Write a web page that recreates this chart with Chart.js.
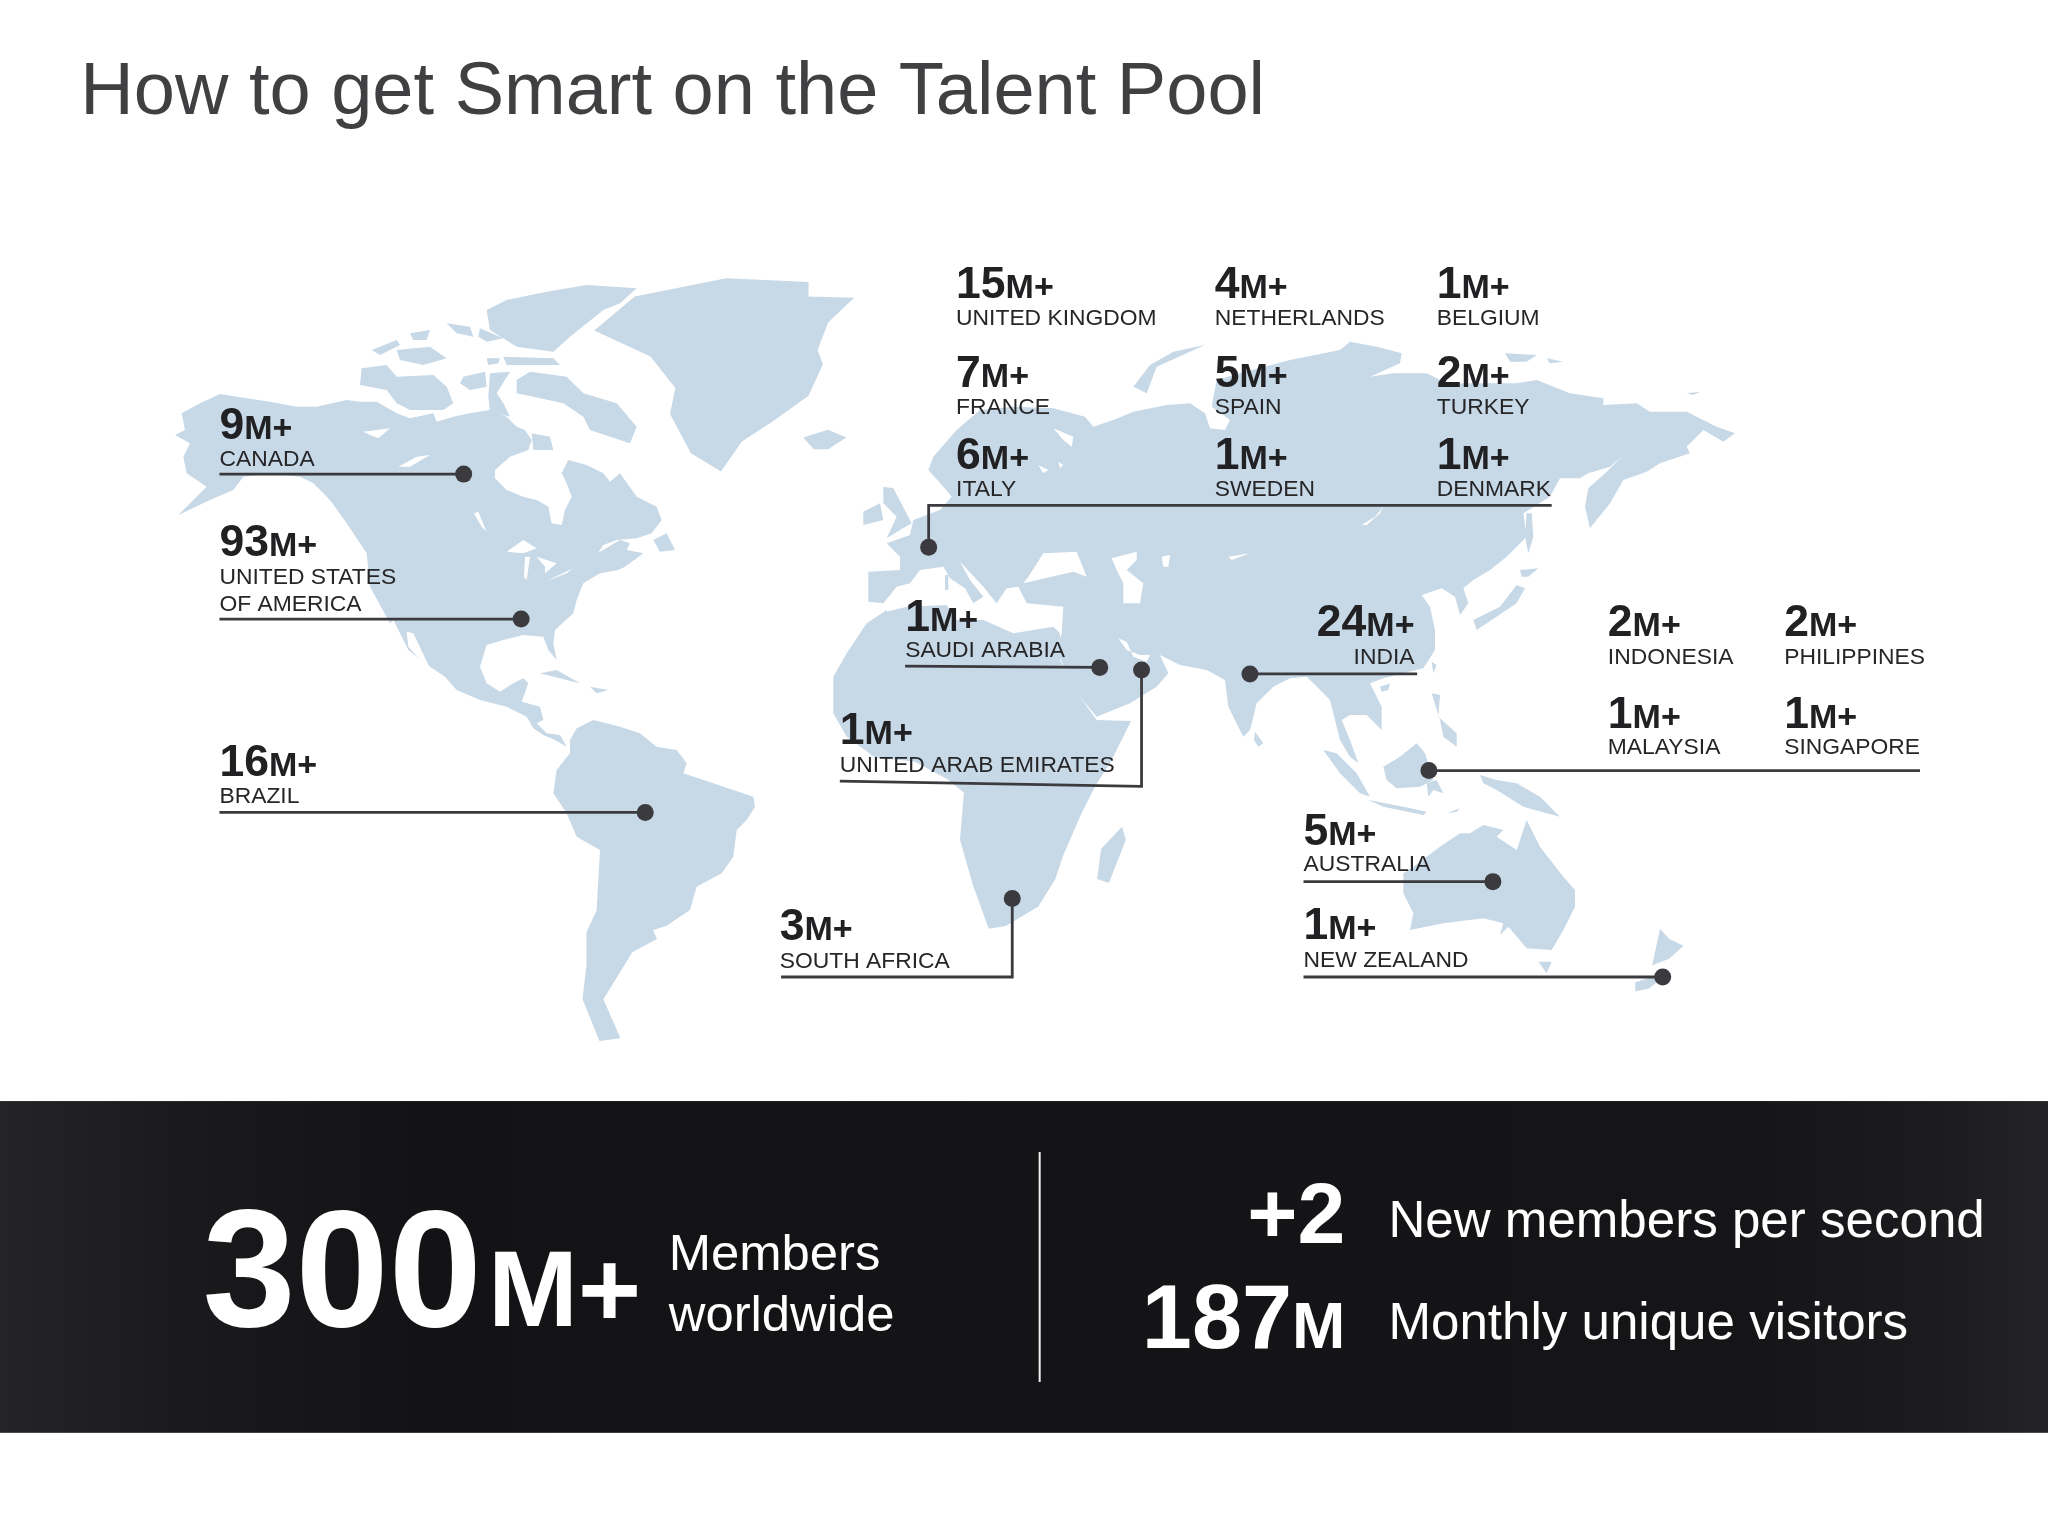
<!DOCTYPE html>
<html><head><meta charset="utf-8">
<style>html,body{margin:0;padding:0;background:#fff}canvas{display:block}</style>
<script src="https://cdn.jsdelivr.net/npm/chart.js@4"></script>
</head><body><canvas id="c" width="2048" height="1536"></canvas>
<script>
// Map outlines. Arrays named *A..*E were read on enlarged views of the picture;
// viewA..viewE hold the origin of each view, and fromView() brings those readings to the chart's data units.
const viewA=[170,270], viewB=[380,520], viewC=[840,340], viewD=[1260,340], viewE=[1150,640];
const fromView=(v,pts)=>pts.map(p=>[(v[0]+p[0]/3)/1.30612,(v[1]+p[1]/3)/1.30612]);

const canadaAlaskaA=[[15,495],[45,480],[35,430],[90,400],[150,372],[230,385],[300,395],[380,410],[440,410],[530,390],[570,395],[620,395],[680,430],[720,445],[790,430],[800,455],[850,440],[900,430],[960,420],[1010,440],[1040,470],[1065,480],[1085,510],[1075,540],[1020,560],[975,600],[975,625],[1010,660],[1060,680],[1100,690],[1135,710],[1145,760],[1175,765],[1185,720],[1205,680],[1190,640],[1175,610],[1195,570],[1250,585],[1300,610],[1320,635],[1350,610],[1400,680],[1460,710],[1475,750],[1445,790],[1400,805],[1340,810],[1300,825],[1285,848]];
const usaMexicoEastB=[[720,60],[750,70],[740,90],[790,100],[735,140],[715,150],[660,160],[610,190],[590,240],[580,280],[525,330],[520,370],[530,420],[505,390],[490,350],[430,345],[370,360],[320,375],[300,440],[320,490],[360,515],[400,490],[430,475],[445,490],[425,545],[480,560],[490,600],[470,610],[500,640],[540,645],[560,680],[525,660],[490,645],[460,625],[440,590],[380,560],[300,540],[230,510],[195,470],[150,440],[85,390],[60,340],[40,300]];
const pacificCoastA=[[660,1060],[600,950],[590,850],[530,760],[480,690],[430,640],[390,620],[300,610],[220,620],[190,660],[120,690],[25,735],[110,650],[50,610],[40,560],[60,520]];
const northAmerica=[...fromView(viewA,canadaAlaskaA),...fromView(viewB,usaMexicoEastB),...fromView(viewA,pacificCoastA)];
const newfoundlandB=[[820,60],[860,40],[885,90],[840,95]];
const victoriaA=[[575,295],[650,285],[680,320],[790,315],[830,350],[850,400],[820,420],[780,420],[720,420],[680,400],[650,360],[570,345]];
const princeOfWalesA=[[880,320],[945,305],[950,350],[900,360],[870,340]];
const somersetA=[[960,310],[1020,305],[980,370],[1000,400],[1020,440],[960,425],[955,380]];
const baffinA=[[1040,330],[1080,305],[1190,320],[1240,370],[1340,400],[1400,470],[1380,520],[1320,500],[1260,480],[1240,440],[1180,400],[1090,380],[1040,370]];
const southamptonA=[[1085,490],[1140,500],[1150,540],[1090,540]];
const devonA=[[1000,260],[1150,265],[1170,285],[1010,285]];
const cornwallisA=[[950,265],[990,265],[985,280],[955,285]];
const ellesmereA=[[950,120],[1010,90],[1130,65],[1250,45],[1400,55],[1350,100],[1300,120],[1200,200],[1150,245],[1040,230],[960,180]];
const melvilleA=[[680,240],[780,230],[830,265],[760,285],[690,270]];
const banksA=[[605,240],[680,210],[690,225],[630,255]];
const arcticSmall1A=[[830,160],[900,170],[910,200],[860,190]];
const arcticSmall2A=[[720,190],[780,180],[770,210],[730,210]];
const arcticSmall3A=[[930,175],[1000,205],[950,215],[925,200]];
const greenland=[[556,213],[619,216],[619,227],[654,228],[634,247],[626,268],[630,279],[619,303],[591,323],[568,338],[552,361],[529,347],[513,317],[517,297],[498,273],[455,253],[486,227]];
const iceland=[[615,335],[634,329],[648,335],[634,344],[623,344]];
const cubaB=[[480,460],[530,450],[600,490],[620,495],[560,480],[500,465]];
const hispaniolaB=[[630,500],[685,510],[650,520]];
const southAmericaNorthB=[[570,660],[590,625],[640,600],[720,620],[780,640],[830,680],[890,690],[920,730],[910,760],[1000,790],[1120,830],[1125,860],[1100,900],[1070,930],[1060,1010],[1025,1060],[950,1100],[930,1170]];
const southAmericaSouth=[[510,709],[500,712],[503,719],[484,729],[478,739],[462,765],[475,795],[459,797],[446,765],[449,739],[449,714]];
const southAmericaWestB=[[650,1170],[660,990],[590,950],[560,880],[520,820],[530,750],[570,700]];
const southAmerica=[...fromView(viewB,southAmericaNorthB),...southAmericaSouth,...fromView(viewB,southAmericaWestB)];
const africaNorthC=[[141,815],[200,800],[320,795],[350,840],[430,840],[520,880],[640,860],[660,880],[660,960],[720,1070],[770,1140]];
const africaEastSouth=[[866,552],[850,584],[839,601],[827,625],[814,655],[808,673],[795,694],[770,709],[757,711],[745,678],[735,643],[738,607],[726,597],[700,583],[670,580]];
const africaWestB=[[1400,650],[1360,580],[1360,470],[1400,400],[1460,310],[1520,270]];
const africa=[...fromView(viewC,africaNorthC),...africaEastSouth,...fromView(viewB,africaWestB)];
const madagascar=[[859,633],[862,643],[849,676],[840,673],[843,650]];
const eurasiaWestNorthC=[[85,695],[180,690],[180,650],[140,610],[210,585],[220,540],[300,510],[335,470],[310,440],[265,390],[280,350],[350,270],[420,210],[520,200],[640,205],[735,230],[760,260],[820,240],[880,215],[980,195],[1050,190],[1095,220],[1110,265],[1155,270],[1170,240],[1115,200],[1130,120],[1200,100],[1350,60],[1500,30]];
const eurasiaNorthEastD=[[270,5],[350,20],[425,40],[420,70],[330,110],[400,100],[500,100],[560,130],[770,130],[830,120],[930,160],[1030,175],[1030,195],[1130,190],[1170,215],[1280,215],[1370,260],[1425,280],[1390,305],[1330,270],[1310,290],[1280,320],[1290,340],[1200,370],[1160,395],[1090,420],[1050,490],[990,565],[975,500],[985,445],[1040,395],[1085,350],[1050,380],[985,400],[960,415],[900,415],[870,470],[790,520],[800,590],[740,650],[690,690],[640,720],[610,745],[625,790],[600,825],[585,770],[545,745],[485,765],[510,800],[525,870],[525,930],[490,985]];
const eurasiaSouthE=[[820,85],[700,115],[660,130],[695,200],[695,270],[650,225],[600,225],[575,240],[600,300],[625,370],[600,350],[570,300],[555,240],[540,180],[490,130],[470,110],[420,115],[370,140],[320,190],[300,270],[280,290],[235,200],[225,120],[170,90]];
const eurasiaSouthWestC=[[1020,975],[960,945],[985,1000],[950,1040],[870,1090],[770,1130],[720,1070],[680,1000],[650,930],[665,880],[670,800],[560,790],[535,740],[500,745],[470,790],[430,740],[360,665],[390,720],[430,770],[400,790],[375,745],[330,715],[310,680],[240,690],[210,730],[170,740],[130,790],[85,785]];
const eurasia=[...fromView(viewC,eurasiaWestNorthC),...fromView(viewD,eurasiaNorthEastD),...fromView(viewE,eurasiaSouthE),...fromView(viewC,eurasiaSouthWestC)];
const britainC=[[130,440],[160,445],[215,550],[180,570],[140,595],[170,530],[130,490]];
const irelandC=[[70,515],[120,490],[130,540],[70,555]];
const corsicaC=[[315,705],[325,705],[325,750],[315,750]];
const novayaZemlyaC=[[1095,15],[1000,35],[930,75],[880,140],[920,160],[950,80],[1040,40]];
const newSiberia1D=[[735,40],[830,45],[800,65],[750,65]];
const newSiberia2D=[[860,55],[910,65],[870,70]];
const wrangelD=[[1280,160],[1320,155],[1300,165]];
const sakhalinD=[[800,520],[815,520],[820,590],[805,640],[795,590]];
const hokkaidoD=[[780,690],[835,685],[805,710],[785,710]];
const honshuD=[[770,735],[795,745],[770,790],[650,870],[640,840],[720,800]];
const taiwanD=[[515,965],[530,975],[520,1000]];
const hainanD=[[360,1040],[390,1030],[385,1050],[365,1055]];
const philippinesE=[[845,160],[870,165],[865,230],[920,280],[920,320],[880,290],[870,240]];
const sumatraE=[[520,330],[560,340],[620,400],[660,470],[630,460],[570,400]];
const javaE=[[655,480],[760,500],[830,515],[820,525],[700,500]];
const borneoE=[[700,380],[750,350],[800,310],[825,340],[850,420],[810,440],[740,445],[710,420]];
const sulawesiE=[[830,430],[860,420],[880,460],[850,450],[835,470]];
const newGuineaE=[[990,405],[1040,420],[1100,430],[1170,470],[1230,530],[1190,520],[1120,500],[1040,450],[1000,430]];
const timorE=[[890,520],[930,505],[920,515]];
const sriLankaE=[[315,275],[340,310],[325,320],[312,300]];
const australiaE=[[760,700],[790,680],[870,620],[930,580],[960,580],[1000,555],[1060,570],[1040,590],[1100,630],[1130,540],[1170,620],[1240,710],[1275,750],[1275,800],[1240,870],[1205,930],[1130,925],[1075,860],[1050,885],[1060,850],[1000,835],[880,850],[780,870],[790,820],[760,760]];
const tasmaniaE=[[1165,965],[1205,965],[1190,1000]];
const newZealandNorth=[[1271,711],[1278,719],[1289,724],[1278,734],[1265,739]];
const newZealandSouth=[[1268,747],[1252,752],[1252,759],[1262,757],[1278,745]];
const landShapes=[northAmerica,fromView(viewB,newfoundlandB),...[victoriaA,princeOfWalesA,somersetA,baffinA,southamptonA,devonA,cornwallisA,ellesmereA,melvilleA,banksA,arcticSmall1A,arcticSmall2A,arcticSmall3A].map(s=>fromView(viewA,s)),greenland,iceland,fromView(viewB,cubaB),fromView(viewB,hispaniolaB),southAmerica,africa,madagascar,eurasia,...[britainC,irelandC,corsicaC,novayaZemlyaC].map(s=>fromView(viewC,s)),...[newSiberia1D,newSiberia2D,wrangelD,sakhalinD,hokkaidoD,honshuD,taiwanD,hainanD].map(s=>fromView(viewD,s)),...[philippinesE,sumatraE,javaE,borneoE,sulawesiE,newGuineaE,timorE,sriLankaE,australiaE,tasmaniaE].map(s=>fromView(viewE,s)),newZealandNorth,newZealandSouth];
// Water inside the land
const greatBearA=[[580,485],[660,475],[625,505],[600,495]];
const greatSlaveA=[[685,590],[740,560],[780,555],[720,590]];
const winnipegA=[[912,730],[925,725],[950,785],[935,770]];
const superiorB=[[380,95],[430,60],[470,85],[430,100]];
const michiganB=[[435,110],[450,110],[440,180],[432,170]];
const huronB=[[470,110],[530,130],[495,160],[495,140]];
const erieB=[[495,185],[580,145],[560,160]];
const californiaGulfB=[[80,335],[100,340],[150,445],[130,430],[85,380]];
const bothniaC=[[640,265],[700,290],[695,320],[670,300]];
const baltic1C=[[595,375],[625,390],[610,400]];
const baltic2C=[[655,365],[670,375],[660,385]];
const blackSeaC=[[565,710],[610,640],[710,635],[740,710],[700,695],[550,730]];
const caspianC=[[815,655],[890,635],[890,660],[860,690],[910,730],[900,790],[850,790],[850,730],[830,690]];
const aralC=[[965,650],[990,645],[985,680],[970,680]];
const balkhashC=[[1165,650],[1230,640],[1175,660]];
const persianGulfC=[[835,895],[860,905],[880,950],[920,965],[930,945],[900,945],[860,930]];
const baikalD=[[305,555],[345,530],[370,500],[360,520],[320,555]];
const waterShapes=[...[greatBearA,greatSlaveA,winnipegA].map(s=>fromView(viewA,s)),...[superiorB,michiganB,huronB,erieB,californiaGulfB].map(s=>fromView(viewB,s)),...[bothniaC,baltic1C,baltic2C,blackSeaC,caspianC,aralC,balkhashC,persianGulfC].map(s=>fromView(viewC,s)),fromView(viewD,baikalD)];
// Leader lines and dots
const leaderLines=[[[168,363],[355,363]],[[168,474],[399,474]],[[168,622],[494,622]],[[1188,387],[711,387],[711,419]],[[693,510],[842,511]],[[643,598],[874,602],[874,513]],[[957,516],[1085,516]],[[1094,590],[1470,590]],[[998,675],[1143,675]],[[998,748],[1273,748]],[[598,748],[775,748],[775,688]]];
const dots=[[355,363],[399,474],[494,622],[711,419],[842,511],[874,513],[957,516],[1094,590],[1143,675],[1273,748],[775,688]];
const dividerLine=[[796,882],[796,1058]];
// Country labels
const countryNames=[["CANADA"],["UNITED STATES","OF AMERICA"],["BRAZIL"],["UNITED KINGDOM"],["NETHERLANDS"],["BELGIUM"],["FRANCE"],["SPAIN"],["TURKEY"],["ITALY"],["SWEDEN"],["DENMARK"],["SAUDI ARABIA"],["UNITED ARAB EMIRATES"],["INDIA"],["INDONESIA"],["PHILIPPINES"],["MALAYSIA"],["SINGAPORE"],["AUSTRALIA"],["NEW ZEALAND"],["SOUTH AFRICA"]];
const memberMillions=["9","93","16","15","4","1","7","5","2","6","1","1","1","1","24","2","2","1","1","5","1","3"];
const labelX=[168,168,168,732,930,1100,732,930,1100,732,930,1100,693,643,1083,1231,1366,1231,1366,998,998,597];
const labelNumberY=[336,426,594,228,228,228,296,296,296,359,359,359,483,570,487,487,487,557,557,647,719,720];
const labelNameY=[357,447,615,249,249,249,317,317,317,380,380,380,503,591,508,508,508,577,577,667,740,741];
const titleText="How to get Smart on the Talent Pool";
const totalMembers="300", totalUnit="M+", totalCaption=["Members","worldwide"];
const perSecond="+2", perSecondCaption="New members per second";
const monthlyVisitors="187", monthlyUnit="M", monthlyCaption="Monthly unique visitors";

const FONT='"Liberation Sans",Arial,sans-serif';
const toXY=a=>a.map(p=>({x:p[0],y:p[1]}));
const datasets=[];
datasets.push({label:'dots',data:toXY(dots),showLine:false,pointRadius:8.5,pointBackgroundColor:'#3b3b3f',pointBorderWidth:0,order:0});
leaderLines.forEach(l=>datasets.push({label:'leader',data:toXY(l),showLine:true,borderColor:'#3b3b3f',borderWidth:2.8,pointRadius:0,tension:0,order:1}));
datasets.push({label:'divider',data:toXY(dividerLine),showLine:true,borderColor:'#f2f2f2',borderWidth:2,pointRadius:0,order:1});
waterShapes.forEach(s=>datasets.push({label:'water',data:toXY(s),showLine:true,fill:'shape',backgroundColor:'#ffffff',borderWidth:0,pointRadius:0,tension:0,order:2}));
landShapes.forEach(s=>datasets.push({label:'land',data:toXY(s),showLine:true,fill:'shape',backgroundColor:'#c7d8e7',borderWidth:0,pointRadius:0,tension:0,order:3}));

const bandPlugin={id:'band',beforeDatasetsDraw(chart){
  const {ctx,scales:{x,y}}=chart;
  const top=y.getPixelForValue(843),bot=y.getPixelForValue(1097),r=x.getPixelForValue(1568),l=x.getPixelForValue(0);
  const g=ctx.createLinearGradient(l,0,r,0);
  g.addColorStop(0,'#242426');g.addColorStop(0.09,'#1a1a1c');g.addColorStop(0.2,'#131315');g.addColorStop(0.85,'#151517');g.addColorStop(0.95,'#1c1c1e');g.addColorStop(1,'#242426');
  ctx.save();ctx.fillStyle=g;ctx.fillRect(l,top,r-l,bot-top);ctx.restore();
}};
const textPlugin={id:'texts',afterDraw(chart){
  const {ctx,scales:{x,y}}=chart;
  const put=(t,dx,dy,font,color,align)=>{ctx.font=font;ctx.fillStyle=color;ctx.textAlign=align||'left';ctx.textBaseline='alphabetic';ctx.fillText(t,x.getPixelForValue(dx),y.getPixelForValue(dy));};
  const pair=(a,b,dx,dy,fa,fb,color,right,gap)=>{
    ctx.font=fa;const wa=ctx.measureText(a).width;ctx.font=fb;const wb=ctx.measureText(b).width;
    const px=x.getPixelForValue(dx)-(right?wa+wb:0),py=y.getPixelForValue(dy);
    ctx.textAlign='left';ctx.textBaseline='alphabetic';ctx.fillStyle=color;
    ctx.font=fa;ctx.fillText(a,px,py);ctx.font=fb;ctx.fillText(b,px+wa+(gap||0),py);
  };
  ctx.save();
  put(titleText,61.5,87,'74px '+FONT,'#404042');
  countryNames.forEach((lines,i)=>{
    const right=countryNames[i][0]==="INDIA";
    pair(memberMillions[i],'M+',labelX[i],labelNumberY[i],'bold 44.5px '+FONT,'bold 34px '+FONT,'#212124',right);
    lines.forEach((t,j)=>put(t,labelX[i],labelNameY[i]+j*21,'22.85px '+FONT,'#262628',right?'right':'left'));
  });
  pair(totalMembers,totalUnit,155,1015,'bold 167.5px '+FONT,'bold 108px '+FONT,'#ffffff',false,6);
  put(totalCaption[0],512,972,'50.8px '+FONT,'#ffffff');
  put(totalCaption[1],512,1019,'50.8px '+FONT,'#ffffff');
  put(perSecond,1030,952,'bold 86px '+FONT,'#ffffff','right');
  pair(monthlyVisitors,monthlyUnit,1030,1032,'bold 90px '+FONT,'bold 64px '+FONT,'#ffffff',true);
  put(perSecondCaption,1063,947,'51.1px '+FONT,'#ffffff');
  put(monthlyCaption,1063,1025,'51.1px '+FONT,'#ffffff');
  ctx.restore();
}};
new Chart(document.getElementById('c'),{type:'scatter',data:{datasets},plugins:[bandPlugin,textPlugin],options:{
  responsive:false,animation:false,devicePixelRatio:1,events:[],
  layout:{padding:0,autoPadding:false},
  plugins:{legend:{display:false},tooltip:{enabled:false},title:{display:false}},
  scales:{x:{type:'linear',display:false,min:0,max:1568},y:{type:'linear',display:false,min:0,max:1176,reverse:true}}
}});
</script></body></html>
